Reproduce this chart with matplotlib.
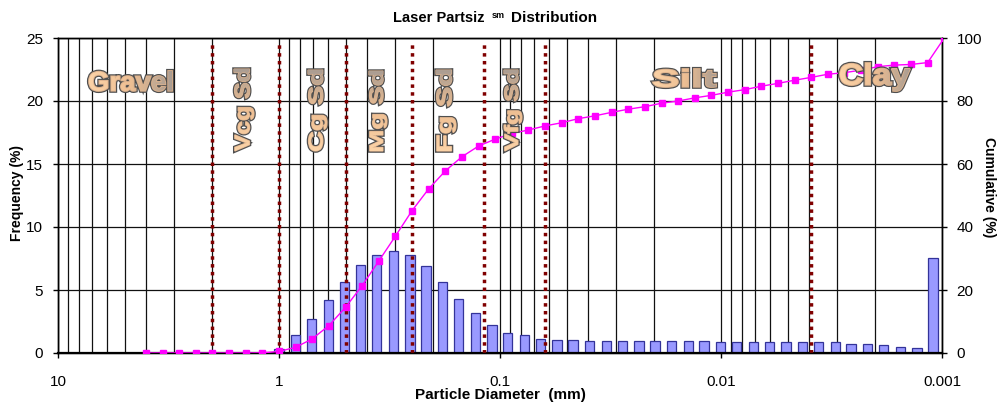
import numpy as np
import matplotlib
matplotlib.use("Agg")
import matplotlib.pyplot as plt
import matplotlib.patheffects as pe
import matplotlib.transforms as mtransforms
from matplotlib.colors import LinearSegmentedColormap
from matplotlib.font_manager import FontProperties
from matplotlib.patches import PathPatch
from matplotlib.textpath import TextPath
from matplotlib.ticker import LogLocator, NullFormatter

plt.rcParams["font.family"] = ["Liberation Sans", "DejaVu Sans"]

W, H = 998, 404

# cumulative curve, quarter-phi steps
CUM_PHI = [-2.0, -1.75, -1.5, -1.25, -1.0, -0.75, -0.5, -0.25, 0.0, 0.25, 0.5, 0.75,
           1.0, 1.25, 1.5, 1.75, 2.0, 2.25, 2.5, 2.75, 3.0, 3.25, 3.5, 3.75,
           4.0, 4.25, 4.5, 4.75, 5.0, 5.25, 5.5, 5.75, 6.0, 6.25, 6.5, 6.75,
           7.0, 7.25, 7.5, 7.75, 8.0, 8.25, 8.5, 8.75, 9.0, 9.25, 9.5, 9.75, 10.0]
CUM_PCT = [0, 0, 0, 0, 0, 0, 0, 0.05, 0.5, 1.8, 4.5, 8.7,
           14.5, 21.4, 29.2, 37.1, 45.2, 52.1, 57.8, 62.3, 65.7, 67.9, 69.7, 70.8,
           72.1, 73.1, 74.4, 75.3, 76.4, 77.4, 78.2, 79.3, 80.0, 81.0, 81.8, 82.8,
           83.6, 84.7, 85.6, 86.6, 87.5, 88.5, 89.0, 89.8, 90.9, 91.4, 91.6, 92.2, 100.0]

# frequency bars, laser channel centres (phi)
BAR_PHI = [0.00, 0.25, 0.49, 0.74, 0.98, 1.23, 1.47, 1.72, 1.97, 2.21,
           2.46, 2.70, 2.95, 3.20, 3.44, 3.69, 3.93, 4.18, 4.42, 4.67,
           4.92, 5.16, 5.41, 5.65, 5.90, 6.15, 6.39, 6.64, 6.88, 7.13,
           7.37, 7.62, 7.87, 8.11, 8.36, 8.60, 8.85, 9.09, 9.34, 9.59, 9.83]
BAR_PCT = [0.35, 1.4, 2.7, 4.2, 5.6, 7.0, 7.8, 8.1, 7.8, 6.9,
           5.6, 4.3, 3.15, 2.2, 1.6, 1.4, 1.15, 1.05, 1.05, 0.92,
           0.92, 0.92, 0.92, 0.92, 0.92, 0.92, 0.92, 0.85, 0.85, 0.85,
           0.85, 0.85, 0.85, 0.85, 0.85, 0.74, 0.74, 0.61, 0.48, 0.37, 7.56]

# class boundaries (mm)
BOUNDARY_MM = [2.0, 1.0, 0.5, 0.25, 0.118, 0.0625, 0.0039]

X_TICKS = [10, 1, 0.1, 0.01, 0.001]
X_LABELS = ["10", "1", "0.1", "0.01", "0.001"]

CLASS_NAMES = ["Gravel", "Vcg Sd", "Cg Sd", "Mg Sd", "Fg Sd", "Vfg Sd", "Silt", "Clay"]
# word-art boxes in figure pixels: x0, x1, y_top, y_bottom
CLASS_BOXES = [(89, 172, 71, 91), (234, 254, 69, 151), (308, 327, 70, 151),
               (369, 387, 71, 151), (436, 456, 70, 151), (504, 522, 70, 151),
               (653, 716, 69, 87), (840, 910, 63, 91)]
CLASS_VERTICAL = [False, True, True, True, True, True, False, False]

cum_mm = 2.0 ** -np.array(CUM_PHI)
bar_mm = 2.0 ** -np.array(BAR_PHI)

fig = plt.figure(figsize=(W / 100, H / 100), dpi=100)
ax = fig.add_axes([58 / W, 1 - 353 / H, 884 / W, 315 / H])
ax.set_xscale("log")
ax.set_xlim(10, 0.001)
ax.set_ylim(0, 25)
ax.set_axisbelow(True)

half = 10 ** 0.021
ax.bar(bar_mm / half, BAR_PCT, width=bar_mm * (half - 1 / half), align="edge",
       color="#9999ff", edgecolor="#333399", linewidth=0.9, zorder=2)

for b in BOUNDARY_MM:
    ax.axvline(b, ymax=0.99, color="#800000", lw=2.5, ls=(0, (1, 1.25)), zorder=3)

ax.set_xticks(X_TICKS, X_LABELS)
ax.xaxis.set_minor_locator(LogLocator(base=10, subs=np.arange(2, 10)))
ax.xaxis.set_minor_formatter(NullFormatter())
ax.tick_params(axis="x", which="major", direction="out", length=3.6, width=1,
               pad=12, labelsize=11)
ax.tick_params(axis="x", which="minor", length=0)
ax.grid(True, which="both", axis="x", color="#111111", lw=0.9)
ax.set_yticks([0, 5, 10, 15, 20, 25])
ax.grid(True, which="major", axis="y", color="#111111", lw=0.9)
ax.tick_params(axis="y", direction="out", length=3.6, width=1, pad=7, labelsize=11)
for s in ax.spines.values():
    s.set_color("black")
    s.set_linewidth(1.0)
ax.spines["bottom"].set_linewidth(1.6)

ax2 = ax.twinx()
ax2.set_ylim(0, 100)
ax2.plot(cum_mm, CUM_PCT, color="#ff00ff", lw=1.0, marker="s", ms=5,
         mec="#ff00ff", mfc="#ff00ff", zorder=4)
ax2.set_yticks([0, 20, 40, 60, 80, 100])
ax2.tick_params(axis="y", direction="out", length=3.6, width=1, pad=7, labelsize=11)
for s in ax2.spines.values():
    s.set_color("black")
    s.set_linewidth(1.0)

# word-art class names, gradient filled and outlined
ov = fig.add_axes([0, 0, 1, 1], zorder=10)
ov.set_xlim(0, W)
ov.set_ylim(H, 0)
ov.axis("off")
fp = FontProperties(family="Liberation Sans", weight="bold")
cmap = LinearSegmentedColormap.from_list("wa", ["#fcd4a8", "#eebf93", "#a69b92"])


def word_art(text, box, vertical):
    x0, x1, y0, y1 = box
    p = TextPath((0, 0), text, size=100, prop=fp)
    t = mtransforms.Affine2D().scale(1, -1)
    if vertical:
        t = t.rotate_deg(-90)
    p = t.transform_path(p)
    e = p.get_extents()
    t2 = (mtransforms.Affine2D().translate(-e.x0, -e.y0)
          .scale((x1 - x0) / e.width, (y1 - y0) / e.height).translate(x0, y0))
    p = t2.transform_path(p)
    # fattened body: dark rim under a peach stroke
    fat = 1.3 if not vertical else 0.9
    body = PathPatch(p, facecolor="#e4b88f", edgecolor="#dcb28e", lw=fat, zorder=1)
    body.set_path_effects([pe.Stroke(linewidth=fat + 1.7, foreground="#4f4f4f"),
                           pe.Normal()])
    ov.add_patch(body)
    clip = PathPatch(p, facecolor="none", edgecolor="none", zorder=0)
    ov.add_patch(clip)
    g = np.linspace(0, 1, 256)
    img = g[::-1][:, None] if vertical else g[None, :]
    im = ov.imshow(img, cmap=cmap, extent=(x0 - 2, x1 + 2, y1 + 2, y0 - 2),
                   aspect="auto", interpolation="bilinear", zorder=2)
    im.set_clip_path(clip)


for name, box, vert in zip(CLASS_NAMES, CLASS_BOXES, CLASS_VERTICAL):
    word_art(name, box, vert)
ov.set_xlim(0, W)
ov.set_ylim(H, 0)

# titles
fig.text(393 / W, 1 - 22 / H, "Laser Partsiz", fontsize=10.5, fontweight="bold",
         ha="left", va="baseline")
fig.text(492 / W, 1 - 18 / H, "sm", fontsize=6.5, fontweight="bold",
         ha="left", va="baseline")
fig.text(511 / W, 1 - 22 / H, "Distribution", fontsize=11, fontweight="bold",
         ha="left", va="baseline")
fig.text(500 / W, 1 - 395 / H, "Particle Diameter  (mm)", fontsize=11,
         fontweight="bold", ha="center", va="center")
fig.text(17 / W, 1 - 193 / H, "Frequency (%)", fontsize=10, fontweight="bold",
         rotation=90, ha="center", va="center")
fig.text(989 / W, 1 - 187 / H, "Cumulative (%)", fontsize=10, fontweight="bold",
         rotation=-90, ha="center", va="center")

fig.savefig("out.png", dpi=100)
